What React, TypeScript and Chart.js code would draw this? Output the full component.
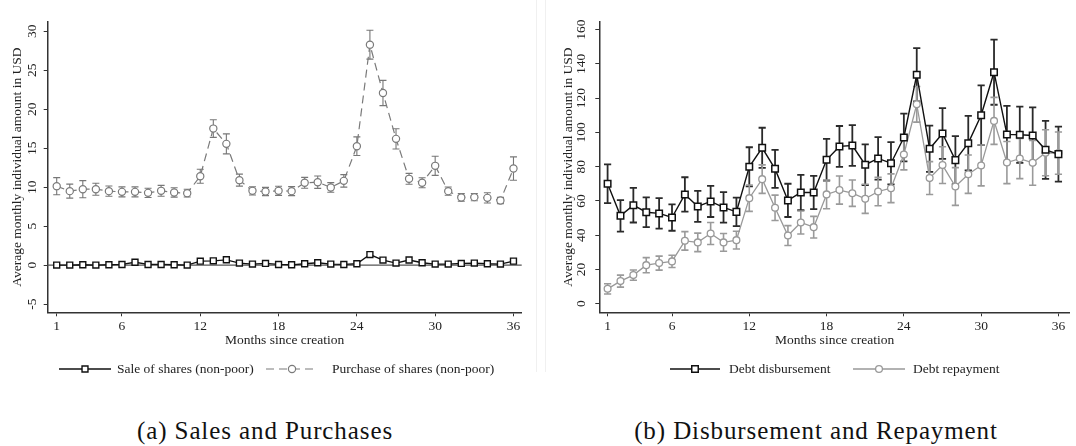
import React, { useEffect, useRef } from "react";
import { Chart, registerables } from "chart.js";

Chart.register(...registerables);

// ---------- data ----------
const months = [1, 2, 3, 4, 5, 6, 7, 8, 9, 10, 11, 12, 13, 14, 15, 16, 17, 18, 19, 20, 21, 22, 23, 24, 25, 26, 27, 28, 29, 30, 31, 32, 33, 34, 35, 36];
const xTickValues = [1, 6, 12, 18, 24, 30, 36];
const leftYTickValues = [-5, 0, 5, 10, 15, 20, 25, 30];
const rightYTickValues = [0, 20, 40, 60, 80, 100, 120, 140, 160];

const saleOfShares = [0.0, 0.0, 0.04, 0.0, 0.04, 0.08, 0.36, 0.08, 0.08, 0.04, 0.0, 0.5, 0.55, 0.68, 0.26, 0.13, 0.21, 0.08, 0.04, 0.17, 0.3, 0.13, 0.08, 0.17, 1.35, 0.64, 0.26, 0.65, 0.3, 0.13, 0.13, 0.21, 0.26, 0.17, 0.13, 0.51];
const purchaseOfShares = [10.13, 9.49, 9.74, 9.74, 9.49, 9.4, 9.4, 9.27, 9.53, 9.32, 9.23, 11.41, 17.52, 15.56, 10.9, 9.53, 9.44, 9.53, 9.49, 10.56, 10.64, 9.96, 10.81, 15.26, 28.29, 22.09, 16.2, 11.07, 10.56, 12.74, 9.49, 8.68, 8.72, 8.63, 8.29, 12.39];
const purchaseOfSharesCI = [1.1, 0.9, 1.1, 0.77, 0.66, 0.64, 0.64, 0.6, 0.7, 0.6, 0.5, 0.9, 1.13, 1.28, 0.77, 0.53, 0.53, 0.58, 0.58, 0.7, 0.8, 0.62, 0.8, 1.2, 1.86, 1.62, 1.3, 0.7, 0.64, 1.22, 0.53, 0.49, 0.47, 0.66, 0.4, 1.5];

const debtDisbursement = [70.0, 51.3, 57.5, 53.4, 52.7, 50.3, 63.8, 56.8, 59.7, 56.2, 53.6, 79.9, 91.0, 78.7, 60.3, 64.9, 64.9, 84.0, 91.8, 92.3, 81.1, 84.8, 82.0, 97.0, 133.6, 90.4, 99.3, 83.8, 93.7, 110.0, 135.1, 98.8, 98.6, 98.2, 89.8, 87.3];
const debtDisbursementCI = [11.3, 9.2, 10.1, 8.7, 8.9, 7.7, 10.0, 9.0, 9.1, 8.9, 8.3, 11.4, 11.7, 11.1, 9.7, 10.3, 9.7, 12.2, 11.9, 11.9, 11.9, 12.4, 12.3, 13.9, 15.6, 13.5, 14.8, 14.0, 15.9, 17.4, 19.0, 16.6, 16.4, 16.4, 16.9, 16.1];
const debtRepayment = [8.7, 13.2, 16.7, 22.5, 23.7, 24.7, 36.7, 35.8, 41.0, 35.8, 37.1, 61.6, 72.7, 56.0, 39.8, 47.4, 44.7, 63.8, 66.3, 64.5, 61.2, 65.5, 67.4, 87.1, 116.4, 73.3, 80.9, 68.4, 75.6, 80.7, 106.7, 82.4, 84.7, 82.2, 88.1, 87.9];
const debtRepaymentCI = [3.0, 3.5, 3.0, 4.4, 4.1, 3.6, 5.4, 5.4, 6.4, 5.2, 5.2, 7.7, 8.3, 7.4, 5.8, 6.7, 6.3, 8.4, 8.2, 7.7, 8.5, 8.3, 8.4, 9.0, 10.4, 9.6, 10.7, 11.0, 11.2, 11.9, 13.7, 12.3, 11.7, 13.1, 13.4, 12.3];

// ---------- styling ----------
const FONT = "'Liberation Serif', 'Times New Roman', serif";
const TEXT_COLOR = "#222";
const AXIS_COLOR = "#333";

const toPoints = (vals: number[]) => months.map((m, i) => ({ x: m, y: vals[i] }));

// error bars drawn through the y scale
const errorBarPlugin = {
  id: "errorBars",
  beforeDatasetsDraw(chart: any) {
    const ctx = chart.ctx;
    const yScale = chart.scales.y;
    chart.data.datasets.forEach((ds: any, i: number) => {
      if (!ds.errors) return;
      const meta = chart.getDatasetMeta(i);
      ctx.save();
      ctx.strokeStyle = ds.errorColor;
      ctx.lineWidth = ds.errorWidth;
      ctx.setLineDash([]);
      meta.data.forEach((pt: any, j: number) => {
        const v = ds.data[j].y;
        const e = ds.errors[j];
        const yTop = yScale.getPixelForValue(v + e);
        const yBot = yScale.getPixelForValue(v - e);
        const x = pt.x;
        const c = ds.capHalfWidth;
        ctx.beginPath();
        ctx.moveTo(x, yTop);
        ctx.lineTo(x, yBot);
        ctx.moveTo(x - c, yTop);
        ctx.lineTo(x + c, yTop);
        ctx.moveTo(x - c, yBot);
        ctx.lineTo(x + c, yBot);
        ctx.stroke();
      });
      ctx.restore();
    });
  },
};

// zero reference line
const zeroLinePlugin = {
  id: "zeroLine",
  beforeDatasetsDraw(chart: any, _args: any, opts: any) {
    if (!opts || !opts.show) return;
    const { ctx, chartArea } = chart;
    const y = chart.scales.y.getPixelForValue(0);
    ctx.save();
    ctx.strokeStyle = opts.color;
    ctx.lineWidth = opts.width;
    ctx.beginPath();
    ctx.moveTo(chartArea.left, y);
    ctx.lineTo(chartArea.right, y);
    ctx.stroke();
    ctx.restore();
  },
};

// vertical (rotated) y tick labels
const yTickLabelPlugin = {
  id: "yTickLabels",
  afterDraw(chart: any, _args: any, opts: any) {
    if (!opts || !opts.values) return;
    const { ctx, chartArea } = chart;
    const yScale = chart.scales.y;
    ctx.save();
    ctx.fillStyle = TEXT_COLOR;
    ctx.font = opts.font;
    ctx.textAlign = "center";
    ctx.textBaseline = "middle";
    opts.values.forEach((v: number) => {
      const y = yScale.getPixelForValue(v);
      ctx.save();
      ctx.translate(chartArea.left - opts.offset, y);
      ctx.rotate(-Math.PI / 2);
      ctx.fillText(String(v), 0, 0);
      ctx.restore();
    });
    ctx.restore();
  },
};

// Stata-style legend: line with marker in the middle, then label
const stataLegendPlugin = {
  id: "stataLegend",
  afterDraw(chart: any, _args: any, opts: any) {
    if (!opts || !opts.items) return;
    const ctx = chart.ctx;
    const y = opts.y;
    opts.items.forEach((it: any) => {
      const ds: any = chart.data.datasets[it.datasetIndex];
      ctx.save();
      ctx.strokeStyle = ds.borderColor;
      ctx.lineWidth = ds.borderWidth;
      ctx.setLineDash(ds.borderDash || []);
      ctx.beginPath();
      ctx.moveTo(it.lineStart, y);
      ctx.lineTo(it.lineEnd, y);
      ctx.stroke();
      ctx.setLineDash([]);
      const mx = (it.lineStart + it.lineEnd) / 2;
      ctx.fillStyle = ds.pointBackgroundColor;
      ctx.strokeStyle = ds.pointBorderColor;
      ctx.lineWidth = ds.pointBorderWidth;
      ctx.beginPath();
      if (ds.pointStyle === "rect") {
        const s = Math.SQRT1_2 * ds.pointRadius;
        ctx.rect(mx - s, y - s, 2 * s, 2 * s);
      } else {
        ctx.arc(mx, y, ds.pointRadius, 0, Math.PI * 2);
      }
      ctx.fill();
      ctx.stroke();
      ctx.fillStyle = TEXT_COLOR;
      ctx.font = opts.font;
      ctx.textAlign = "left";
      ctx.textBaseline = "middle";
      ctx.fillText(ds.label, it.textX, y + 0.5);
      ctx.restore();
    });
  },
};

function buildConfig(p: {
  datasets: any[];
  xMin: number;
  xMax: number;
  yMin: number;
  yMax: number;
  yTicks: number[];
  yAxisWidth: number;
  padRight: number;
  titlePad: number;
  tickOffset: number;
  zeroLine: boolean;
  legendItems: any[];
}): any {
  return {
    type: "line",
    data: { datasets: p.datasets },
    plugins: [errorBarPlugin, zeroLinePlugin, yTickLabelPlugin, stataLegendPlugin],
    options: {
      responsive: false,
      animation: false,
      devicePixelRatio: 1,
      layout: { padding: { top: 22, left: 0, right: p.padRight, bottom: 41.7 } },
      plugins: {
        legend: { display: false },
        tooltip: { enabled: false },
        zeroLine: { show: p.zeroLine, color: "#555", width: 1.2 },
        yTickLabels: { values: p.yTicks, offset: p.tickOffset, font: `13.5px ${FONT}` },
        stataLegend: { y: 369, font: `13.5px ${FONT}`, items: p.legendItems },
      },
      scales: {
        x: {
          type: "linear",
          min: p.xMin,
          max: p.xMax,
          afterBuildTicks: (s: any) => {
            s.ticks = xTickValues.map((v) => ({ value: v }));
          },
          afterFit: (s: any) => {
            s.height = 36;
          },
          ticks: {
            autoSkip: false,
            maxRotation: 0,
            minRotation: 0,
            padding: 2,
            color: TEXT_COLOR,
            font: { family: FONT, size: 13.5 },
            callback: (v: any) => String(v),
          },
          grid: { display: true, drawOnChartArea: false, drawTicks: true, tickLength: 4, color: AXIS_COLOR, lineWidth: 1 },
          border: { display: true, color: AXIS_COLOR, width: 1.5 },
          title: {
            display: true,
            text: "Months since creation",
            color: TEXT_COLOR,
            font: { family: FONT, size: 13.5 },
            padding: { top: 0, bottom: 0 },
          },
        },
        y: {
          type: "linear",
          min: p.yMin,
          max: p.yMax,
          afterBuildTicks: (s: any) => {
            s.ticks = p.yTicks.map((v) => ({ value: v }));
          },
          afterFit: (s: any) => {
            s.width = p.yAxisWidth;
          },
          ticks: { display: false },
          grid: { display: true, drawOnChartArea: false, drawTicks: true, tickLength: 4, color: AXIS_COLOR, lineWidth: 1 },
          border: { display: true, color: AXIS_COLOR, width: 1.5 },
          title: {
            display: true,
            text: "Average monthly individual amount in USD",
            color: TEXT_COLOR,
            font: { family: FONT, size: 13.5 },
            padding: { top: p.titlePad, bottom: 0 },
          },
        },
      },
    },
  };
}

const leftConfig = () =>
  buildConfig({
    datasets: [
      {
        label: "Sale of shares (non-poor)",
        data: toPoints(saleOfShares),
        borderColor: "#111",
        borderWidth: 1.3,
        pointStyle: "rect",
        pointRadius: 4.2,
        pointBorderColor: "#111",
        pointBackgroundColor: "#fff",
        pointBorderWidth: 1.4,
        tension: 0,
      },
      {
        label: "Purchase of shares (non-poor)",
        data: toPoints(purchaseOfShares),
        errors: purchaseOfSharesCI,
        errorColor: "#777",
        errorWidth: 1.1,
        capHalfWidth: 3.5,
        borderColor: "#7a7a7a",
        borderWidth: 1.2,
        borderDash: [8, 5],
        pointStyle: "circle",
        pointRadius: 3.6,
        pointBorderColor: "#7a7a7a",
        pointBackgroundColor: "#fff",
        pointBorderWidth: 1.2,
        tension: 0,
      },
    ],
    xMin: 0.31,
    xMax: 36.63,
    yMin: -6.06,
    yMax: 31.2,
    yTicks: leftYTickValues,
    yAxisWidth: 47.7,
    padRight: 537 - 521.7,
    titlePad: 9.2,
    tickOffset: 15,
    zeroLine: true,
    legendItems: [
      { datasetIndex: 0, lineStart: 59, lineEnd: 111, textX: 117 },
      { datasetIndex: 1, lineStart: 266, lineEnd: 318, textX: 332 },
    ],
  });

const rightConfig = () =>
  buildConfig({
    datasets: [
      {
        label: "Debt disbursement",
        data: toPoints(debtDisbursement),
        errors: debtDisbursementCI,
        errorColor: "#2a2a2a",
        errorWidth: 1.8,
        capHalfWidth: 3.6,
        borderColor: "#111",
        borderWidth: 1.4,
        pointStyle: "rect",
        pointRadius: 4.6,
        pointBorderColor: "#111",
        pointBackgroundColor: "#fff",
        pointBorderWidth: 1.5,
        tension: 0,
      },
      {
        label: "Debt repayment",
        data: toPoints(debtRepayment),
        errors: debtRepaymentCI,
        errorColor: "#9a9a9a",
        errorWidth: 1.6,
        capHalfWidth: 3.6,
        borderColor: "#999",
        borderWidth: 1.3,
        pointStyle: "circle",
        pointRadius: 3.4,
        pointBorderColor: "#999",
        pointBackgroundColor: "#fff",
        pointBorderWidth: 1.3,
        tension: 0,
      },
    ],
    xMin: 0.356,
    xMax: 36.89,
    yMin: -5.0,
    yMax: 164.4,
    yTicks: rightYTickValues,
    yAxisWidth: 59.3,
    padRight: 0,
    titlePad: 20.8,
    tickOffset: 17.5,
    zeroLine: false,
    legendItems: [
      { datasetIndex: 0, lineStart: 130, lineEnd: 180, textX: 189 },
      { datasetIndex: 1, lineStart: 313, lineEnd: 365, textX: 373 },
    ],
  });

function PanelChart({ left, width, height, build }: { left: number; width: number; height: number; build: () => any }) {
  const ref = useRef<HTMLCanvasElement | null>(null);
  useEffect(() => {
    if (!ref.current) return;
    const chart = new Chart(ref.current, build());
    return () => chart.destroy();
  }, []);
  return (
    <canvas
      ref={ref}
      width={width}
      height={height}
      style={{ position: "absolute", left, top: 0, width, height, display: "block" }}
    />
  );
}

const captionStyle: React.CSSProperties = {
  position: "absolute",
  top: 416,
  transform: "translateX(-50%)",
  whiteSpace: "nowrap",
  fontFamily: "'Liberation Serif', serif",
  fontSize: 25,
  letterSpacing: "0.9px",
  lineHeight: "30px",
  color: "#111",
};

export default function App() {
  return (
    <div style={{ position: "fixed", left: 0, top: 0, width: 1076, height: 446, background: "#fff", overflow: "hidden" }}>
      <PanelChart left={0} width={537} height={390} build={leftConfig} />
      <PanelChart left={540} width={536} height={390} build={rightConfig} />
      <div style={{ position: "absolute", left: 536, top: 0, width: 1, height: 372, background: "#f0f0f0" }} />
      <div style={{ position: "absolute", left: 545, top: 0, width: 1, height: 372, background: "#f0f0f0" }} />
      <div style={{ ...captionStyle, left: 265 }}>(a) Sales and Purchases</div>
      <div style={{ ...captionStyle, left: 816 }}>(b) Disbursement and Repayment</div>
    </div>
  );
}
